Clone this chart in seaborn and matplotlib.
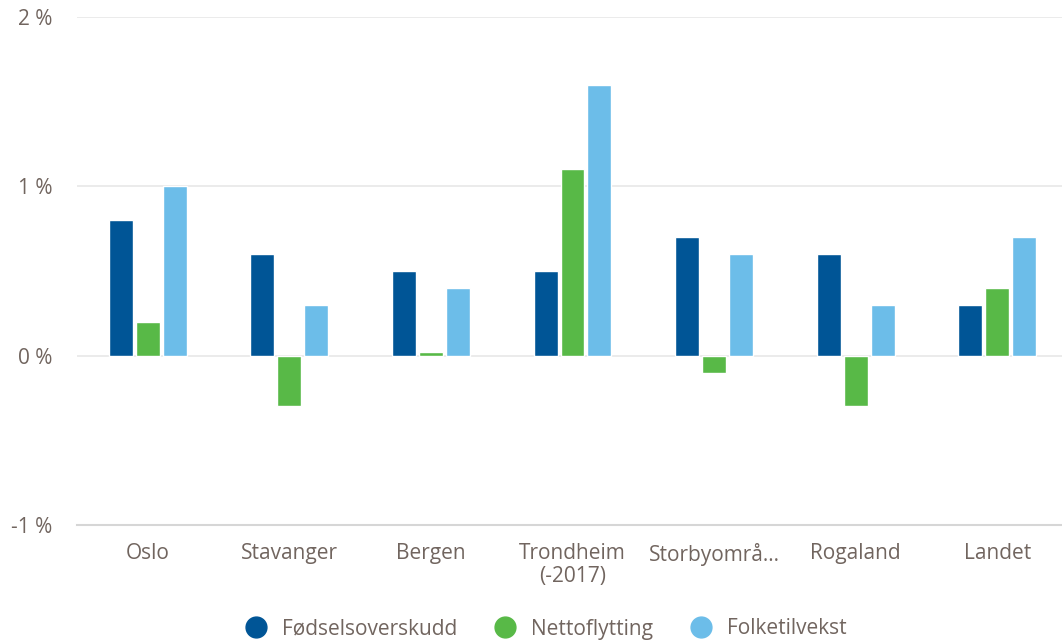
import pandas as pd
import matplotlib.pyplot as plt
import seaborn as sns
from matplotlib.lines import Line2D

# values (percent)
regions = ['Oslo', 'Stavanger', 'Bergen', 'Trondheim\n(-2017)', 'Storbyområ...', 'Rogaland', 'Landet']
fodsel = [0.8, 0.6, 0.5, 0.5, 0.7, 0.6, 0.3]
netto = [0.2, -0.3, 0.02, 1.1, -0.1, -0.3, 0.4]
folke = [1.0, 0.3, 0.4, 1.6, 0.6, 0.3, 0.7]
series = ['Fødselsoverskudd', 'Nettoflytting', 'Folketilvekst']
colors = ['#005596', '#58b947', '#6cbde9']

df = pd.DataFrame({'region': regions * 3,
                   'serie': [series[0]] * 7 + [series[1]] * 7 + [series[2]] * 7,
                   'verdi': fodsel + netto + folke})

sns.set_style("white")
plt.rcParams['font.family'] = ['Open Sans', 'DejaVu Sans']
txt = '#71655f'

fig = plt.figure(figsize=(10.62, 6.4), dpi=100)
ax = fig.add_axes([77 / 1062, 1 - 525 / 640, 991 / 1062, 508 / 640])

sns.barplot(data=df, x='region', y='verdi', hue='serie', palette=colors,
            width=0.57, gap=0.11, saturation=1, legend=False, ax=ax)

ax.set_ylim(-1, 2)
ax.set_xlim(-0.5, 6.5)
ax.set_yticks([-1, 0, 1, 2])
ax.set_yticklabels(['-1 %', '0 %', '1 %', '2 %'])
ax.set_xlabel('')
ax.set_ylabel('')
ax.yaxis.grid(True, color='#e8e8e8', linewidth=1.2)
ax.set_axisbelow(True)
for s in ['top', 'right', 'left']:
    ax.spines[s].set_visible(False)
ax.spines['bottom'].set_color('#d6d6d6')
ax.spines['bottom'].set_linewidth(1.5)

ax.set_xticks([i + 0.5 for i in range(-1, 7)], minor=True)
ax.tick_params(axis='x', which='minor', length=15, color='#e0e0e0', width=1.2)
ax.tick_params(axis='x', which='major', length=0, pad=13, labelsize=15, labelcolor=txt)
ax.tick_params(axis='y', length=0, pad=18, labelsize=15, labelcolor=txt)
for lab in ax.get_xticklabels():
    lab.set_linespacing(1.15)

handles = [Line2D([0], [0], marker='o', linestyle='', markersize=15,
                  markerfacecolor=c, markeredgecolor=c) for c in colors]
fig.legend(handles, series, loc='center', bbox_to_anchor=(0.509, 1 - 629 / 640),
           ncol=3, frameon=False, fontsize=15, labelcolor=txt,
           handletextpad=0.25, columnspacing=1.3)

fig.savefig('out.png', dpi=100)
